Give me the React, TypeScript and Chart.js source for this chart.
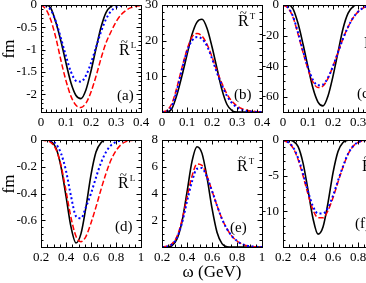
import React, { useEffect, useRef } from "react";
import { Chart, registerables } from "chart.js";

Chart.register(...registerables);

// ---------- data ----------
const omegaTop = [0, 0.02, 0.04, 0.06, 0.08, 0.1, 0.12, 0.14, 0.16, 0.18, 0.2, 0.22, 0.24, 0.26, 0.28, 0.3, 0.32, 0.34, 0.36, 0.38, 0.4];
const omegaBottom = [0.2, 0.24, 0.28, 0.32, 0.36, 0.4, 0.44, 0.48, 0.52, 0.56, 0.6, 0.64, 0.68, 0.72, 0.76, 0.8, 0.84, 0.88, 0.92, 0.96, 1.0];

// (a) R~L, q small
const aSolid = [0, 0, -0.08, -0.4, -0.82, -1.3, -1.75, -2.03, -2.1, -1.9, -1.48, -0.98, -0.5, -0.17, -0.03, 0, 0, 0, 0, 0, 0];
const aDashed = [0, -0.1, -0.35, -0.75, -1.25, -1.7, -2.05, -2.25, -2.3, -2.2, -1.95, -1.6, -1.2, -0.85, -0.6, -0.38, -0.22, -0.12, -0.06, -0.03, -0.01];
const aDotted = [0, -0.02, -0.12, -0.38, -0.75, -1.15, -1.5, -1.7, -1.72, -1.58, -1.3, -0.95, -0.6, -0.32, -0.14, -0.05, -0.01, 0, 0, 0, 0];

// (b) R~T
const bSolid = [0, 0, 1, 4.9, 10.2, 16, 21.7, 25.2, 26, 23.5, 18.3, 12.2, 6.2, 2.1, 0.4, 0, 0, 0, 0, 0, 0];
const bDashed = [0, 0.5, 2.5, 7, 12.5, 17.5, 21, 22, 21.3, 19, 15.5, 11.5, 8, 5, 3, 1.7, 0.9, 0.5, 0.25, 0.1, 0.05];
const bDotted = [0, 0.2, 1.8, 6.2, 12, 17, 20, 21, 20.5, 18.5, 15, 11, 7.5, 4.5, 2.5, 1.3, 0.6, 0.25, 0.1, 0, 0];

// (c)
const cSolid = [0, 0, -2.5, -12, -25.5, -40.5, -54.5, -63.5, -66, -59.5, -46.5, -31, -15.5, -5.5, -1, 0, 0, 0, 0, 0, 0];
const cDashed = [0, -2, -8, -19, -31, -42, -50.5, -54, -53, -48, -40, -31, -22, -14.5, -8.5, -4.5, -2, -0.8, -0.3, -0.1, 0];
const cDotted = [0, -1.5, -7.5, -18, -30, -41, -49, -52.5, -52, -47.5, -40, -31, -22, -14.5, -8.5, -4.5, -2, -0.8, -0.3, 0, 0];

// (d) R~L, q larger
const dSolid = [0, 0, -0.01, -0.06, -0.2, -0.42, -0.65, -0.77, -0.7, -0.5, -0.26, -0.09, -0.02, 0, 0, 0, 0, 0, 0, 0, 0];
const dDashed = [0, -0.005, -0.02, -0.07, -0.19, -0.38, -0.58, -0.72, -0.76, -0.72, -0.62, -0.5, -0.37, -0.25, -0.15, -0.08, -0.035, -0.012, -0.003, 0, 0];
const dDotted = [0, 0, -0.005, -0.03, -0.1, -0.23, -0.42, -0.57, -0.585, -0.5, -0.4, -0.28, -0.17, -0.09, -0.04, -0.015, -0.005, 0, 0, 0, 0];

// (e) R~T
const eSolid = [0, 0, 0.1, 0.6, 1.9, 4.1, 6.4, 7.5, 7.0, 5.2, 2.9, 1.1, 0.25, 0.02, 0, 0, 0, 0, 0, 0, 0];
const eDashed = [0, 0.05, 0.25, 0.8, 2.0, 3.7, 5.3, 6.2, 6.1, 5.3, 4.2, 3.1, 2.1, 1.35, 0.8, 0.45, 0.22, 0.1, 0.04, 0.01, 0];
const eDotted = [0, 0.03, 0.2, 0.7, 1.8, 3.4, 4.9, 5.85, 5.9, 5.2, 4.2, 3.1, 2.1, 1.35, 0.8, 0.45, 0.22, 0.1, 0.04, 0.01, 0];

// (f)
const fSolid = [0, 0, -0.15, -0.9, -3.2, -7, -11, -13.2, -12.2, -8.8, -4.6, -1.6, -0.35, -0.03, 0, 0, 0, 0, 0, 0, 0];
const fDashed = [-0.05, -0.35, -1.1, -2.7, -5, -7.6, -9.8, -10.9, -10.9, -9.9, -8.1, -5.9, -3.8, -2.0, -0.9, -0.35, -0.1, -0.02, 0, 0, 0];
const fDotted = [-0.04, -0.3, -1.0, -2.5, -4.7, -7.2, -9.3, -10.3, -10.3, -9.5, -7.8, -5.7, -3.7, -1.95, -0.88, -0.33, -0.09, -0.02, 0, 0, 0];

// ticks
const xTicksTop = [0, 0.1, 0.2, 0.3, 0.4];
const xLabelsTop = ["0", "0.1", "0.2", "0.3", "0.4"];
const xTicksBottom = [0.2, 0.4, 0.6, 0.8, 1.0];
const xLabelsBottom = ["0.2", "0.4", "0.6", "0.8", "1"];

const aYTicks = [0, -0.5, -1, -1.5, -2];
const aYLabels = ["0", "-0.5", "-1", "-1.5", "-2"];
const bYTicks = [10, 20, 30];
const bYLabels = ["10", "20", "30"];
const cYTicks = [0, -20, -40, -60];
const cYLabels = ["0", "-20", "-40", "-60"];
const dYTicks = [0, -0.2, -0.4, -0.6];
const dYLabels = ["0", "-0.2", "-0.4", "-0.6"];
const eYTicks = [2, 4, 6, 8];
const eYLabels = ["2", "4", "6", "8"];
const fYTicks = [0, -5, -10];
const fYLabels = ["0", "-5", "-10"];

const panelTags = ["(a)", "(b)", "(c)", "(d)", "(e)", "(f)"];
const xAxisTitle = "ω (GeV)";
const yAxisTitle = "fm";

// ---------- layout ----------
const FONT = "'Liberation Serif', 'DejaVu Serif', 'Times New Roman', serif";
const YW = 41; // y-scale width
const XH = 24; // x-scale height
const PT = 15;
const PR = 20;
const PB = 40;

type Panel = {
  area: [number, number, number, number];
  xs: number[];
  solid: number[];
  dashed: number[];
  dotted: number[];
  xRange: [number, number];
  yRange: [number, number];
  xTicks: number[];
  xLabels: string[];
  xMinor: number;
  yTicks: number[];
  yLabels: string[];
  yMinor: number;
  sup: string;
  rPos: [number, number];
  tag: string;
  tagPos: [number, number];
  extra?: { text: string; x: number; y: number; rotate?: boolean; size: number }[];
};

const panels: Panel[] = [
  {
    area: [41, 5, 141, 112], xs: omegaTop, solid: aSolid, dashed: aDashed, dotted: aDotted,
    xRange: [0, 0.4], yRange: [-2.4, 0], xTicks: xTicksTop, xLabels: xLabelsTop, xMinor: 0.02,
    yTicks: aYTicks, yLabels: aYLabels, yMinor: 0.1, sup: "L", rPos: [119, 55], tag: panelTags[0], tagPos: [117, 100],
    extra: [{ text: yAxisTitle, x: 10, y: 49, rotate: true, size: 17 }],
  },
  {
    area: [162, 5, 262, 112], xs: omegaTop, solid: bSolid, dashed: bDashed, dotted: bDotted,
    xRange: [0, 0.4], yRange: [0, 30], xTicks: xTicksTop, xLabels: xLabelsTop, xMinor: 0.02,
    yTicks: bYTicks, yLabels: bYLabels, yMinor: 2, sup: "T", rPos: [238, 26], tag: panelTags[1], tagPos: [234, 99],
  },
  {
    area: [283, 5, 383, 112], xs: omegaTop, solid: cSolid, dashed: cDashed, dotted: cDotted,
    xRange: [0, 0.4], yRange: [-70, 0], xTicks: xTicksTop, xLabels: xLabelsTop, xMinor: 0.02,
    yTicks: cYTicks, yLabels: cYLabels, yMinor: 5, sup: "S", rPos: [364, 48], tag: panelTags[2], tagPos: [357, 98],
  },
  {
    area: [41, 140, 141, 247], xs: omegaBottom, solid: dSolid, dashed: dDashed, dotted: dDotted,
    xRange: [0.2, 1], yRange: [-0.8, 0], xTicks: xTicksBottom, xLabels: xLabelsBottom, xMinor: 0.05,
    yTicks: dYTicks, yLabels: dYLabels, yMinor: 0.05, sup: "L", rPos: [118, 188], tag: panelTags[3], tagPos: [115, 231],
    extra: [{ text: yAxisTitle, x: 10, y: 184, rotate: true, size: 17 }],
  },
  {
    area: [162, 140, 262, 247], xs: omegaBottom, solid: eSolid, dashed: eDashed, dotted: eDotted,
    xRange: [0.2, 1], yRange: [0, 8], xTicks: xTicksBottom, xLabels: xLabelsBottom, xMinor: 0.05,
    yTicks: eYTicks, yLabels: eYLabels, yMinor: 0.5, sup: "T", rPos: [237, 171], tag: panelTags[4], tagPos: [230, 232],
    extra: [{ text: xAxisTitle, x: 212, y: 277, size: 17 }],
  },
  {
    area: [283, 140, 383, 247], xs: omegaBottom, solid: fSolid, dashed: fDashed, dotted: fDotted,
    xRange: [0.2, 1], yRange: [-15, 0], xTicks: xTicksBottom, xLabels: xLabelsBottom, xMinor: 0.05,
    yTicks: fYTicks, yLabels: fYLabels, yMinor: 1, sup: "S", rPos: [362, 171], tag: panelTags[5], tagPos: [355, 228],
  },
];

const toPts = (xs: number[], ys: number[]) => xs.map((x, i) => ({ x, y: ys[i] }));

const steps = (min: number, max: number, step: number) => {
  const n = Math.round((max - min) / step);
  const out: number[] = [];
  for (let i = 0; i <= n; i++) out.push(min + i * step);
  return out;
};

function PanelChart({ p }: { p: Panel }) {
  const ref = useRef<HTMLCanvasElement>(null);
  const [L, T, R, B] = p.area;
  const cLeft = L - YW;
  const cTop = T - PT;
  const w = YW + (R - L) + PR;
  const h = PT + (B - T) + XH + PB;

  useEffect(() => {
    const lookup = (ticks: number[], labels: string[]) => (v: any) => {
      const i = ticks.findIndex((t) => Math.abs(t - Number(v)) < 1e-9);
      return i >= 0 ? labels[i] : "";
    };

    const frame = {
      id: "frame",
      afterDatasetsDraw(chart: any) {
        const { ctx, chartArea } = chart;
        const { left, right, top, bottom } = chartArea;
        const xs = chart.scales.x;
        const ys = chart.scales.y;
        ctx.save();
        ctx.strokeStyle = "#000";
        ctx.lineWidth = 1;
        ctx.strokeRect(left + 0.5, top + 0.5, right - left, bottom - top);
        const drawX = (v: number, len: number) => {
          const px = Math.round(xs.getPixelForValue(v)) + 0.5;
          ctx.beginPath();
          ctx.moveTo(px, bottom);
          ctx.lineTo(px, bottom - len);
          ctx.moveTo(px, top);
          ctx.lineTo(px, top + len);
          ctx.stroke();
        };
        const drawY = (v: number, len: number) => {
          const py = Math.round(ys.getPixelForValue(v)) + 0.5;
          ctx.beginPath();
          ctx.moveTo(left, py);
          ctx.lineTo(left + len, py);
          ctx.moveTo(right, py);
          ctx.lineTo(right - len, py);
          ctx.stroke();
        };
        steps(p.xRange[0], p.xRange[1], p.xMinor).forEach((v) => drawX(v, 2.5));
        p.xTicks.forEach((v) => drawX(v, 4.5));
        steps(p.yRange[0], p.yRange[1], p.yMinor).forEach((v) => drawY(v, 2.5));
        p.yTicks.forEach((v) => drawY(v, 4.5));

        // annotations
        ctx.fillStyle = "#000";
        ctx.textBaseline = "alphabetic";
        ctx.textAlign = "left";
        const rx = p.rPos[0] - cLeft;
        const ry = p.rPos[1] - cTop;
        ctx.font = `16px ${FONT}`;
        ctx.fillText("R", rx, ry);
        const rw = ctx.measureText("R").width;
        ctx.font = `13px ${FONT}`;
        ctx.textAlign = "center";
        ctx.fillText("~", rx + rw / 2, ry - 9.5);
        ctx.textAlign = "left";
        ctx.font = `9px ${FONT}`;
        ctx.fillText(p.sup, rx + rw + 1, ry - 7);
        ctx.font = `15px ${FONT}`;
        ctx.fillText(p.tag, p.tagPos[0] - cLeft, p.tagPos[1] - cTop);
        (p.extra || []).forEach((e) => {
          ctx.save();
          ctx.font = `${e.size}px ${FONT}`;
          ctx.textAlign = "center";
          if (e.rotate) {
            ctx.translate(e.x - cLeft, e.y - cTop);
            ctx.rotate(-Math.PI / 2);
            ctx.textBaseline = "middle";
            ctx.fillText(e.text, 0, 0);
          } else {
            ctx.fillText(e.text, e.x - cLeft, e.y - cTop);
          }
          ctx.restore();
        });
        ctx.restore();
      },
    };

    const tickFont = { family: FONT, size: 13 };
    const chart = new Chart(ref.current as HTMLCanvasElement, {
      type: "line",
      data: {
        datasets: [
          {
            data: toPts(p.xs, p.dotted),
            borderColor: "#0000ff",
            borderWidth: 2,
            borderDash: [2, 2.5],
            cubicInterpolationMode: "monotone",
            pointRadius: 0,
            fill: false,
          },
          {
            data: toPts(p.xs, p.dashed),
            borderColor: "#ff0000",
            borderWidth: 1.5,
            borderDash: [5.5, 2.5],
            cubicInterpolationMode: "monotone",
            pointRadius: 0,
            fill: false,
          },
          {
            data: toPts(p.xs, p.solid),
            borderColor: "#000000",
            borderWidth: 1.6,
            cubicInterpolationMode: "monotone",
            pointRadius: 0,
            fill: false,
          },
        ],
      },
      options: {
        responsive: false,
        animation: false,
        devicePixelRatio: 1,
        events: [],
        layout: { padding: { left: 0, top: PT, right: PR, bottom: PB } },
        plugins: { legend: { display: false }, tooltip: { enabled: false } },
        scales: {
          x: {
            type: "linear",
            min: p.xRange[0],
            max: p.xRange[1],
            afterBuildTicks: (s: any) => {
              s.ticks = p.xTicks.map((v) => ({ value: v }));
            },
            afterFit: (s: any) => {
              s.height = XH;
            },
            grid: { display: false, drawTicks: false },
            border: { display: false },
            ticks: {
              autoSkip: false,
              maxRotation: 0,
              minRotation: 0,
              padding: 3,
              color: "#000",
              font: tickFont,
              callback: lookup(p.xTicks, p.xLabels),
            },
          },
          y: {
            type: "linear",
            min: p.yRange[0],
            max: p.yRange[1],
            afterBuildTicks: (s: any) => {
              s.ticks = p.yTicks.map((v) => ({ value: v }));
            },
            afterFit: (s: any) => {
              s.width = YW;
            },
            grid: { display: false, drawTicks: false },
            border: { display: false },
            ticks: {
              autoSkip: false,
              padding: 4,
              color: "#000",
              font: tickFont,
              callback: lookup(p.yTicks, p.yLabels),
            },
          },
        },
      } as any,
      plugins: [frame],
    });
    return () => chart.destroy();
  }, []);

  return (
    <canvas
      ref={ref}
      width={w}
      height={h}
      style={{ position: "absolute", left: cLeft, top: cTop, width: w, height: h }}
    />
  );
}

export default function App() {
  return (
    <div
      style={{
        position: "absolute",
        left: 0,
        top: 0,
        width: 366,
        height: 283,
        overflow: "hidden",
        background: "#fff",
      }}
    >
      {panels.map((p, i) => (
        <PanelChart key={i} p={p} />
      ))}
    </div>
  );
}
